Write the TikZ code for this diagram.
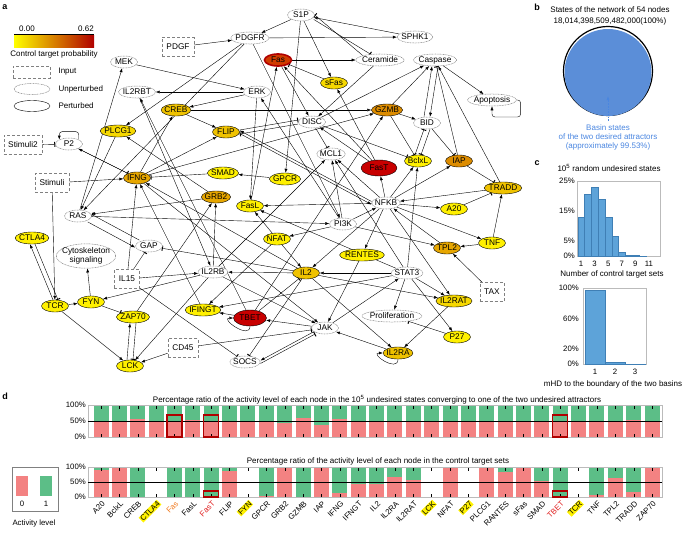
\documentclass[tikz,border=0pt]{standalone}
\usepackage{fontspec}
\setmainfont{Liberation Sans}
\usetikzlibrary{shapes.geometric,arrows.meta,backgrounds}
\definecolor{cY}{HTML}{FFF000}
\definecolor{cYG}{HTML}{F6D800}
\definecolor{cG}{HTML}{EFC200}
\definecolor{cOG}{HTML}{E6A600}
\definecolor{cO}{HTML}{DC8C00}
\definecolor{cR}{HTML}{C80000}
\definecolor{cFas}{HTML}{D03C00}
\definecolor{cFasB}{HTML}{B00000}
\definecolor{cbRed}{HTML}{B00000}
\definecolor{basinblue}{HTML}{5B8ED8}
\definecolor{basintext}{HTML}{4A86E0}
\definecolor{histblue}{HTML}{5DA3D9}
\definecolor{histedge}{HTML}{3F7FB5}
\definecolor{barred}{HTML}{F38282}
\definecolor{bargreen}{HTML}{5CBE87}
\definecolor{axgray}{HTML}{BBBBBB}
\definecolor{dotgray}{HTML}{808080}
\definecolor{labOrange}{HTML}{F07A20}
\definecolor{labRed}{HTML}{E02020}
\definecolor{hiRed}{HTML}{B00000}

\begin{document}
\begin{tikzpicture}[x=1pt, y=-1pt, line width=0.4pt,
  every node/.style={font=\fontsize{8}{9}\selectfont},
  nd/.style={ellipse, font=\fontsize{8.3}{9}\selectfont, inner xsep=-1pt, inner ysep=1pt, minimum width=27pt, text height=6pt, text depth=0.5pt},
  pert/.style={nd, draw=black},
  unpert/.style={nd, draw=dotgray, dash pattern=on 0.9pt off 0.7pt, line width=0.5pt, fill=white},
  cyto/.style={ellipse, draw=dotgray, dash pattern=on 0.9pt off 0.7pt, line width=0.5pt, fill=white, align=center, font=\fontsize{8.3}{9.5}\selectfont, inner xsep=-3pt, inner ysep=0pt},
  inbox/.style={rectangle, draw=dotgray, densely dashed, fill=white, font=\fontsize{8.3}{9}\selectfont, inner xsep=4.5pt, minimum height=19pt},
  act/.style={-{Latex[length=4pt,width=3pt]}},
  inh/.style={-{Bar[width=5pt,line width=1pt]}},
  panel/.style={font=\bfseries\fontsize{9}{10}\selectfont},
  small/.style={font=\fontsize{7.8}{8.5}\selectfont, inner sep=1pt},
  labn/.style={small, rotate=45, anchor=east, inner sep=0.6pt},
  laby/.style={labn, fill=yellow},
  labo/.style={labn, text=labOrange},
  labr/.style={labn, text=labRed}]
\useasboundingbox (0,0) rectangle (685,533);

% Panel letters
\node[panel] (pa) at (5,7) {a};
\node[panel] (pb) at (537,7) {b};
\node[panel] (pc) at (537,163) {c};
\node[panel] (pd) at (5,396) {d};

% Colour bar and legend
\shade[left color=yellow, middle color=orange, right color=cbRed] (14,35) rectangle (94,47);
\draw[line width=0.6pt] (14,34.5) -- (94,34.5);
\node (cb0) at (27,29) {0.00};
\node (cb1) at (86,29) {0.62};
\node (cbt) at (54,54) {Control target probability};
\node[rectangle, draw=dotgray, densely dashed, minimum width=37pt, minimum height=12pt] (legIn) at (31.5,72) {};
\node[ellipse, draw=dotgray, dash pattern=on 0.9pt off 0.7pt, line width=0.5pt, minimum width=36pt, minimum height=11pt] (legUn) at (32,89) {};
\node[ellipse, draw=black, minimum width=36pt, minimum height=11pt] (legPe) at (32,106) {};
\node[anchor=west] (legInT) at (55,72) {Input};
\node[anchor=west] (legUnT) at (55,89) {Unperturbed};
\node[anchor=west] (legPeT) at (55,106) {Perturbed};

% Network nodes
\node[unpert] (S1P) at (301,15) {S1P};
\node[inbox, minimum width=31pt] (PDGF) at (178,47) {PDGF};
\node[unpert] (PDGFR) at (250,38) {PDGFR};
\node[unpert] (SPHK1) at (415,37) {SPHK1};
\node[unpert] (MEK) at (124,62) {MEK};
\node[pert, fill=cFas, draw=cFasB, line width=1.6pt] (Fas) at (278,60) {Fas};
\node[unpert] (Ceramide) at (380,60) {Ceramide};
\node[unpert] (Caspase) at (435,60) {Caspase};
\node[unpert] (Apoptosis) at (492,100) {Apoptosis};
\node[pert, fill=cYG] (sFas) at (334,83) {sFas};
\node[unpert] (ERK) at (257,92) {ERK};
\node[unpert] (IL2RBT) at (137,92) {IL2RBT};
\node[pert, fill=cG] (CREB) at (176,110) {CREB};
\node[pert, fill=cO] (GZMB) at (387,110) {GZMB};
\node[unpert] (DISC) at (312,122) {DISC};
\node[unpert] (BID) at (427,123) {BID};
\node[pert, fill=cYG] (PLCG1) at (118,131) {PLCG1};
\node[pert, fill=cG] (FLIP) at (226,132) {FLIP};
\node[inbox] (Stimuli2) at (23,145) {Stimuli2};
\node[unpert] (P2) at (69,144) {P2};
\node[unpert] (MCL1) at (331,154) {MCL1};
\node[pert, fill=cY] (BclxL) at (418,161) {BclxL};
\node[pert, fill=cO] (IAP) at (459,161) {IAP};
\node[pert, fill=cR, minimum width=36pt, minimum height=16pt] (FasT) at (379,168) {FasT};
\node[pert, fill=cY] (SMAD) at (223,173) {SMAD};
\node[pert, fill=cY] (GPCR) at (285,179) {GPCR};
\node[pert, fill=cOG] (IFNG) at (137,178) {IFNG};
\node[inbox] (Stimuli) at (52,183) {Stimuli};
\node[pert, fill=cG] (TRADD) at (503,188) {TRADD};
\node[pert, fill=cOG] (GRB2) at (216,197) {GRB2};
\node[unpert] (NFKB) at (386,203) {NFKB};
\node[pert, fill=cY] (FasL) at (250,206) {FasL};
\node[pert, fill=cY] (A20) at (454,209) {A20};
\node[unpert] (RAS) at (78,216) {RAS};
\node[unpert] (PI3K) at (343,224) {PI3K};
\node[pert, fill=cY] (CTLA4) at (32,238) {CTLA4};
\node[pert, fill=cY] (NFAT) at (277,239) {NFAT};
\node[pert, fill=cY] (TNF) at (492,243) {TNF};
\node[pert, fill=cOG] (TPL2) at (447,248) {TPL2};
\node[unpert] (GAP) at (149,246) {GAP};
\node[pert, fill=cY] (RENTES) at (362,255) {RENTES};
\node[cyto] (Cyto) at (86,256) {Cytoskeleton\\signaling};
\node[inbox] (IL15) at (127,279) {IL15};
\node[unpert] (IL2RB) at (213,272) {IL2RB};
\node[pert, fill=cG] (IL2) at (306,273) {IL2};
\node[unpert] (STAT3) at (407,273) {STAT3};
\node[inbox] (TAX) at (492,292) {TAX};
\node[pert, fill=cYG] (IL2RAT) at (454,301) {IL2RAT};
\node[pert, fill=cY] (TCR) at (55,306) {TCR};
\node[pert, fill=cY] (FYN) at (91,302) {FYN};
\node[pert, fill=cY] (IFINGT) at (203,310) {IFINGT};
\node[pert, fill=cY] (ZAP70) at (133,317) {ZAP70};
\node[pert, fill=cR, minimum width=33pt, minimum height=16pt] (TBET) at (250,318) {TBET};
\node[unpert] (Prolif) at (392,316) {Proliferation};
\node[unpert] (JAK) at (325,328) {JAK};
\node[pert, fill=cY] (P27) at (457,337) {P27};
\node[inbox] (CD45) at (183,348) {CD45};
\node[pert, fill=cG] (IL2RA) at (398,353) {IL2RA};
\node[unpert] (SOCS) at (245,362) {SOCS};
\node[pert, fill=cY] (LCK) at (130,366) {LCK};

% Network edges
\begin{scope}[on background layer]
\draw[act] (PDGF) -- (PDGFR);
\draw[act] (S1P) -- (PDGFR);
\draw[act] (PDGFR) -- (SPHK1);
\draw[act] (SPHK1) -- (S1P);
\draw[inh] ([xshift=3pt]S1P.south east) -- (Ceramide);
\draw[inh] (Ceramide.north west) -- (S1P.east);
\draw[act] (Fas) -- (Ceramide);
\draw[act] (S1P) -- (sFas);
\draw[act] (S1P) -- (GPCR);
\draw[act] (PDGFR) -- (PLCG1);
\draw[act] (PDGFR) -- (PI3K);
\draw[act] (PDGFR) -- (RAS);
\draw[act] (RAS) -- (MEK);
\draw[act] (MEK) -- (ERK);
\draw[act] (ERK) -- (IL2RBT);
\draw[act] (TBET) -- (IL2RBT);
\draw[act] (ERK) -- (CREB);
\draw[act] (IFNG) -- (CREB);
\draw[act] (CREB) -- (FLIP);
\draw[act] (CREB) -- (GZMB);
\draw[act] (IFNG) -- (GZMB);
\draw[act] (IFNG) -- (FLIP);
\draw[act] ([yshift=1.5pt]NFKB.west) -- ([yshift=1.5pt]FLIP.east);
\draw[act] ([yshift=-1.5pt]FLIP.east) -- ([yshift=-1.5pt]NFKB.west);
\draw[inh] ([yshift=2pt]FLIP.east) -- ([yshift=2pt]DISC.west);
\draw[inh] ([yshift=-2pt]DISC.west) -- ([yshift=-2pt]FLIP.east);
\draw[inh] (Stimuli2) -- (P2);
\draw[act, rounded corners=3pt] (P2.north east) -- ++(0,-8) -| (P2.north west);
\draw[act] (IFNG) -- (P2);
\draw[inh] (P2) -- (IFNG);
\draw[act] (Stimuli) -- (IFNG);
\draw[act] (Stimuli) -- (TCR);
\draw[inh] (SMAD) -- (IFNG);
\draw[act] (GPCR) -- (SMAD);
\draw[act] (IL15) -- (IFNG);
\draw[act] (IL2) -- (IFNG);
\draw[act] (IFINGT) -- (IFNG);
\draw[act] (PLCG1) -- (RAS);
\draw[act] (GRB2) -- (RAS);
\draw[act] (GRB2) -- (PLCG1);
\draw[act] ([yshift=-1.5pt]RAS.south east) -- ([yshift=-1.5pt]GAP.west);
\draw[inh] ([yshift=1.5pt]GAP.north west) -- ([yshift=1.5pt]RAS.east);
\draw[inh] (IL15) -- (GAP);
\draw[inh] (IL2) -- (GAP);
\draw[act] (RAS) -- (PI3K);
\draw[act] (ERK) -- (FasL);
\draw[act] (PI3K) -- (ERK);
\draw[act] (PI3K) -- (NFAT);
\draw[act] (PI3K) -- (NFKB);
\draw[act] (PI3K) -- (TPL2);
\draw[act] (PI3K) -- (MCL1);
\draw[act] (NFAT) -- (IL2);
\draw[act] (NFAT) -- (IFINGT);
\draw[act] (NFAT) -- (FasL);
\draw[act] (NFKB) -- (FasL);
\draw[act] (STAT3) -- (FasL);
\draw[act] (NFKB) -- (FasT);
\draw[act] (NFKB) -- (BclxL);
\draw[act] (NFKB) -- (IAP);
\draw[act] (NFKB) -- (A20);
\draw[act] (NFKB) -- (TNF);
\draw[act] (NFKB) -- (RENTES);
\draw[act] (NFKB) -- (IL2RAT);
\draw[act] (NFKB) -- (MCL1);
\draw[act] (NFKB) -- (IL2);
\draw[act] (TPL2) -- (NFKB);
\draw[act] (TRADD) -- (NFKB);
\draw[inh] (A20) -- (TRADD);
\draw[inh] (IAP) -- (TRADD);
\draw[act] (TNF) -- (TRADD);
\draw[act] (TNF) -- (TPL2);
\draw[act] (TAX) -- (TPL2);
\draw[act] (TRADD) -- (Caspase);
\draw[inh] (IAP) -- (Caspase);
\draw[act] ([xshift=-3pt]BID.north) -- ([xshift=-3pt]Caspase.south);
\draw[act] ([xshift=3pt]Caspase.south) -- ([xshift=3pt]BID.north);
\draw[act] (GZMB) -- (BID);
\draw[act] (GZMB) -- (Caspase);
\draw[inh] (GZMB) -- (BclxL);
\draw[inh] ([xshift=3pt]BID.south) -- ([xshift=3pt]BclxL.north);
\draw[inh] ([xshift=-3pt]BclxL.north) -- ([xshift=-3pt]BID.south);
\draw[inh] (BID) -- (IAP);
\draw[act] (Caspase) -- (Apoptosis);
\draw[act, rounded corners=3pt] (Apoptosis.east) -- ++(4,0) -- ++(0,17) -| (Apoptosis.south);
\draw[act] (Ceramide) -- (DISC);
\draw[act] (DISC) -- (Caspase);
\draw[act] (Fas) -- (DISC);
\draw[act] (FasT) -- (DISC);
\draw[act] (FasT) -- (Fas);
\draw[act] (FasT) -- (sFas);
\draw[inh] (sFas) -- (Fas);
\draw[act] (FasL) -- (Fas);
\draw[inh] (DISC) -- (BclxL);
\draw[inh] (DISC) -- (MCL1);
\draw[act] (STAT3) -- (BclxL);
\draw[act] (STAT3) -- (MCL1);
\draw[act] (IL2RB) -- (MCL1);
\draw[act] (TBET) -- (GZMB);
\draw[act] (TBET.south) .. controls +(0,14) and +(-14,0) .. (TBET.west);
\draw[act] (TBET) -- (IFINGT);
\draw[inh] (TBET) -- (IL2);
\draw[act] (JAK) -- (TBET);
\draw[act] (STAT3) -- (IFINGT);
\draw[act] (JAK) -- (STAT3);
\draw[act] (STAT3) -- (IL2);
\draw[act] (STAT3) -- (Prolif);
\draw[act] (STAT3) -- (P27);
\draw[act] (STAT3) -- (IL2RAT);
\draw[inh] (P27) -- (Prolif);
\draw[act] (IL2) -- (IL2RAT);
\draw[act] (IL2) -- (IL2RA);
\draw[act] (IL2RAT) -- (IL2RA);
\draw[act] (IL2RA.south) .. controls +(0,14) and +(-14,0) .. (IL2RA.west);
\draw[act] (IL2RA) -- (JAK);
\draw[act] (RENTES) -- (JAK);
\draw[act] (IL2RB) -- (JAK);
\draw[act] (IFNG) -- (JAK);
\draw[act] ([yshift=1.5pt]JAK.south west) -- ([yshift=1.5pt]SOCS.east);
\draw[inh] ([yshift=-1.5pt]SOCS.east) -- ([yshift=-1.5pt]JAK.south west);
\draw[inh] (IL2) -- (SOCS);
\draw[inh] (IL15) -- (SOCS);
\draw[inh] (CD45) -- (JAK);
\draw[act] (CD45) -- (LCK);
\draw[act] (IL15) -- (IL2RB);
\draw[act] (IL2) -- (IL2RB);
\draw[act] (IL2RBT) -- (IL2RB);
\draw[act] (IL2RB) -- (FYN);
\draw[act] (IL2RB) -- (LCK);
\draw[act] (IL2RB) -- (GRB2);
\draw[act] ([xshift=-2pt]TCR.north) -- ([xshift=-2pt]CTLA4.south);
\draw[inh] ([xshift=3pt]CTLA4.south) -- ([xshift=3pt]TCR.north);
\draw[act] (TCR) -- (FYN);
\draw[act] (TCR) -- (LCK);
\draw[act] (FYN) -- (Cyto);
\draw[inh] (FYN) -- (ZAP70);
\draw[act] ([xshift=-3pt]LCK.north) -- ([xshift=-3pt]ZAP70.south);
\draw[inh] ([xshift=3pt]ZAP70.south) -- ([xshift=3pt]LCK.north);
\draw[act] (ZAP70) -- (GRB2);
\end{scope}

% Panel b: basin of attraction
\node (bt1) at (610,10) {States of the network of 54 nodes};
\node (bt2) at (610,21) {18,014,398,509,482,000(100\%)};
\draw[line width=1.2pt] (608,71) circle (44.5pt);
\fill[basinblue] (608,72.5) circle (43.5pt);
\coordinate (basinTip) at (608,96);
\node[text=basintext, align=center, font=\fontsize{8}{9}\selectfont] (basinLbl) at (608,137) {Basin states\\of the two desired attractors\\(approximately 99.53\%)};
\draw[-{Latex[length=4pt,width=3pt]}, basintext, densely dotted, line width=0.6pt] (basinLbl.north) -- (basinTip);

% Panel c: histograms
\node[anchor=west] (ct) at (554,168) {10\textsuperscript{5} random undesired states};
\draw[axgray] (577,181) rectangle (660,256);
\foreach \v [count=\k from 0] in {13,20.5,23,19,13,6.7,1.2,0.4,0.15,0.05}
  \filldraw[fill=histblue, draw=histedge, line width=0.2pt] ({577.6+\k*6.8},256) rectangle ({584.4+\k*6.8},{256-3*\v});
\foreach \t [count=\k from 0] in {1,3,5,7,9,11}
  \node[small] (cx\k) at ({581+\k*13.6},264) {\t};
\foreach \p/\yy in {25/181,15/211,5/241,0/256}
  \node[small, anchor=east] (cy\p) at (576,\yy) {\p\%};
\node (cxl) at (612,274) {Number of control target sets};
\draw[axgray] (583,288) rectangle (646,364);
\foreach \v [count=\k from 0] in {97,2.5,0.4}
  \filldraw[fill=histblue, draw=histedge, line width=0.2pt] ({585+\k*20},364) rectangle ({605+\k*20},{364-0.76*\v});
\foreach \t [count=\k from 0] in {1,2,3}
  \node[small] (mx\k) at ({595+\k*20},372) {\t};
\foreach \p/\yy in {100/288,60/318.4,20/348.8,0/364}
  \node[small, anchor=east] (my\p) at (580,\yy) {\p\%};
\node (mxl) at (613,384) {mHD to the boundary of the two basins};

% Panel d: activity levels
\node (dt1) at (377,400) {Percentage ratio of the activity level of each node in the 10\textsuperscript{5} undesired states converging to one of the two undesired attractors};
\node (dt2) at (378,461) {Percentage ratio of the activity level of each node in the control target sets};
\foreach \nm/\ta/\tb/\ls [count=\i from 0] in {A20/.50/.90/labn, BclxL/.49/1/labn, CREB/.55/0/labn, CTLA4/.50/-1/laby, Fas/.50/0/labo, FasL/.53/0/labn, FasT/.50/.05/labr, FLIP/.48/.87/labn, FYN/.50/-1/laby, GPCR/.48/.03/labn, GRB2/.44/1/labn, GZMB/.60/0/labn, IAP/.38/1/labn, IFNG/.55/.13/labn, IFNGT/.50/.42/labn, IL2/.50/.42/labn, IL2RA/.50/.67/labn, IL2RAT/.50/.57/labn, LCK/.50/-1/laby, NFAT/.50/1/labn, P27/.50/-1/laby, PLCG1/.48/1/labn, RANTES/.47/.84/labn, sFas/.47/1/labn, SMAD/.48/.55/labn, TBET/.50/.05/labr, TCR/.50/-1/laby, TNF/.50/.06/labn, TPL2/.50/.62/labn, TRADD/.53/.18/labn, ZAP70/.50/1/labn} {
  \pgfmathsetmacro\x{101+\i*18.37}
  \fill[barred] (\x-7.5,437) rectangle (\x+7.5,{437-32*\ta});
  \fill[bargreen] (\x-7.5,{437-32*\ta}) rectangle (\x+7.5,405);
  \draw (\x,405) -- (\x,408.5);
  \draw (\x,437) -- (\x,433.5);
  \ifdim \tb pt<0pt\relax\else
    \fill[barred] (\x-7.5,497) rectangle (\x+7.5,{497-30*\tb});
    \fill[bargreen] (\x-7.5,{497-30*\tb}) rectangle (\x+7.5,467);
  \fi
  \draw (\x,467) -- (\x,470.5);
  \draw (\x,497) -- (\x,493.5);
  \node[\ls] (dl\i) at (\x+3,502) {\nm};
}
\draw[axgray] (88,405) rectangle (662,437);
\draw[axgray] (88,467) rectangle (662,497);
\draw (88,421) -- (662,421);
\draw (88,482) -- (662,482);
\foreach \p/\yy in {100/405,50/421,0/437}
  \node[small, anchor=east] (dya\p) at (87,\yy) {\p\%};
\foreach \p/\yy in {100/467,50/482,0/497}
  \node[small, anchor=east] (dyb\p) at (87,\yy) {\p\%};
% highlighted targets
\foreach \i in {4,6,25}
  \draw[hiRed, line width=1.3pt] ({101+\i*18.37-7.5},415) rectangle ({101+\i*18.37+7.5},437);
\foreach \i in {6,25}
  \draw[hiRed, line width=1.3pt] ({101+\i*18.37-7.5},491) rectangle ({101+\i*18.37+7.5},497);

% Activity legend
\draw[gray] (12,467) rectangle (58,511);
\fill[barred] (16,476) rectangle (28,496);
\fill[bargreen] (40,476) rectangle (52,496);
\node[small] (lg0) at (22,504) {0};
\node[small] (lg1) at (46,504) {1};
\node[small] (lgt) at (34,523) {Activity level};
\end{tikzpicture}
\end{document}
